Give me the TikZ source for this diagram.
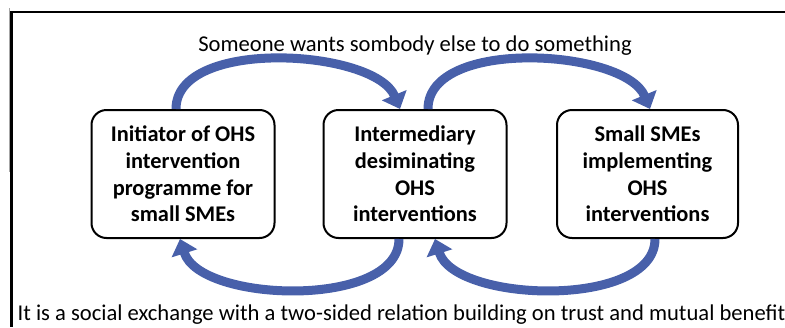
\documentclass[tikz,border=0pt]{standalone}
\usepackage{fontspec}
\setmainfont{Carlito}
\usetikzlibrary{arrows.meta}
\definecolor{arrblue}{RGB}{72,96,170}
\tikzset{
  boxnode/.style={draw=black, line width=2pt, rounded corners=15pt, minimum width=183pt, minimum height=128pt, align=center, font=\fontsize{22.4}{26.7}\selectfont\bfseries, inner sep=0pt},
  bluearr/.style={draw=arrblue, line width=9pt, -{Triangle[width=26pt,length=15pt]}},
  labeltext/.style={anchor=base, inner sep=0pt},
  frameline/.style={line width=2.4pt, black}
}
\begin{document}
\begin{tikzpicture}[x=1pt,y=-1pt]
\useasboundingbox (0,0) rectangle (785,327);
\coordinate (ftl) at (11.5,12);
\coordinate (ftr) at (785,12);
\coordinate (fbl) at (11.5,327);
\coordinate (gt) at (9,8);
\coordinate (gb) at (9,172);
\draw[gray!70, line width=1pt] (gt) -- (gb);
\draw[frameline] (ftr) -- (ftl) -- (fbl);

\node[boxnode] (b1) at (183,174) {Initiator of OHS\\intervention\\programme for\\small SMEs};
\node[boxnode] (b2) at (415,174) {Intermediary\\desiminating\\OHS\\interventions};
\node[boxnode, minimum width=181pt] (b3) at (647.5,174) {Small SMEs\\implementing\\OHS\\interventions};

\node[labeltext, font=\fontsize{22.6}{27}\selectfont] (top) at (415,51) {Someone wants sombody else to do something};
\node[labeltext, font=\fontsize{22.6}{27}\selectfont] (bot) at (401.5,320) {It is a social exchange with a two-sided relation building on trust and mutual benefit};

\draw[bluearr] ([xshift=-7pt]b1.north) .. controls +(0,-72) and +(-25,-60) .. ([xshift=-15pt]b2.north);
\draw[bluearr] ([xshift=13pt]b2.north) .. controls +(0,-72) and +(-25,-60) .. ([xshift=2.5pt]b3.north);
\draw[bluearr] ([xshift=7.5pt]b3.south) .. controls +(0,70) and +(20,64) .. ([xshift=20pt]b2.south);
\draw[bluearr] ([xshift=-16pt]b2.south) .. controls +(0,70) and +(20,64) .. ([xshift=-3pt]b1.south);
\end{tikzpicture}
\end{document}
